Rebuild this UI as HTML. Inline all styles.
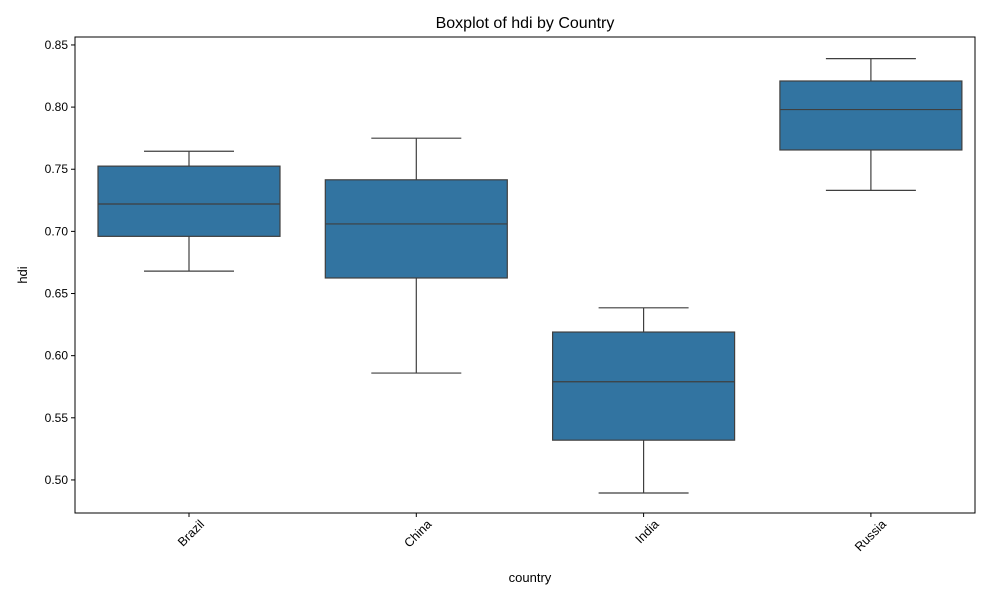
<!DOCTYPE html>
<html><head><meta charset="utf-8"><style>
html,body{margin:0;padding:0;background:#fff;}
svg{display:block;font-family:"Liberation Sans","DejaVu Sans",sans-serif;}
</style></head><body>
<svg id="chart" width="1000" height="600" viewBox="0 0 1000 600">
<rect width="1000" height="600" fill="#fff"/>
<text x="525" y="28" text-anchor="middle" font-size="16" fill="#000">Boxplot of hdi by Country</text>
<g id="plot"></g>
<rect x="75" y="37" width="900" height="476" fill="none" stroke="#000" stroke-width="1"/>
<text x="530" y="582" text-anchor="middle" font-size="13">country</text>
<text transform="translate(27,275) rotate(-90)" text-anchor="middle" font-size="13">hdi</text>
</svg>
<script>
const categories = ["Brazil","China","India","Russia"];
const whiskerLow = [0.668,0.586,0.4895,0.733];
const q1Values = [0.696,0.6625,0.532,0.7655];
const medians = [0.722,0.706,0.579,0.798];
const q3Values = [0.7525,0.7415,0.619,0.821];
const whiskerHigh = [0.7645,0.775,0.6385,0.839];
const yTicks = [0.50,0.55,0.60,0.65,0.70,0.75,0.80,0.85];

const L=75,R=975,T=37,B=513, yMin=0.4734, yMax=0.8564;
const y = v => B - (v - yMin)/(yMax - yMin)*(B - T);
const band = 227.3;
const x = i => 189 + band*i;
const NS="http://www.w3.org/2000/svg";
const g=document.getElementById('plot');
function mk(tag,attrs){const e=document.createElementNS(NS,tag);for(const k in attrs)e.setAttribute(k,attrs[k]);g.appendChild(e);return e;}

yTicks.forEach(t=>{
  const l=mk('line',{x1:L-4,x2:L,y1:y(t),y2:y(t),stroke:'#000'});
  
  
  const tx=mk('text',{x:L-7,y:y(t)+4,'text-anchor':'end','font-size':12});
  tx.textContent=t.toFixed(2);
  
  
});

categories.forEach((c,i)=>{
  const cx=x(i), bw=182, cw=45, st='#3f3f3f';
  const w1=mk('line',{x1:cx,x2:cx,y1:y(whiskerLow[i]),y2:y(q1Values[i]),stroke:st,'stroke-width':1.2});
  
  
  const w2=mk('line',{x1:cx,x2:cx,y1:y(q3Values[i]),y2:y(whiskerHigh[i]),stroke:st,'stroke-width':1.2});
  
  
  const c1=mk('line',{x1:cx-cw,x2:cx+cw,y1:y(whiskerLow[i]),y2:y(whiskerLow[i]),stroke:st,'stroke-width':1.2});
  
  
  const c2=mk('line',{x1:cx-cw,x2:cx+cw,y1:y(whiskerHigh[i]),y2:y(whiskerHigh[i]),stroke:st,'stroke-width':1.2});
  
  
  const b=mk('rect',{x:cx-bw/2,y:y(q3Values[i]),width:bw,height:y(q1Values[i])-y(q3Values[i]),fill:'#3274a1',stroke:st,'stroke-width':1.2});
  
  
  const m=mk('line',{x1:cx-bw/2,x2:cx+bw/2,y1:y(medians[i]),y2:y(medians[i]),stroke:st,'stroke-width':1.2});
  
  
  const tk=mk('line',{x1:cx,x2:cx,y1:B,y2:B+4,stroke:'#000'});
  
  
  const lb=mk('text',{transform:`translate(${cx+16},${B+12}) rotate(-45)`,'text-anchor':'end','font-size':12.5});
  lb.textContent=c;
  
  
});
</script>
</body></html>
